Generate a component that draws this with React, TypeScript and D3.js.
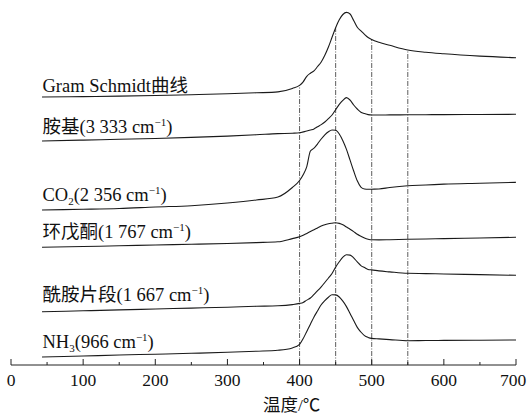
import React from "react";
import * as d3 from "d3";

// Temperature samples (°C)
const temps = [43, 100, 150, 200, 250, 300, 340, 370, 390, 400, 405, 410, 415, 420, 425, 430, 435, 440, 445, 450, 455, 460, 465, 470, 475, 480, 485, 490, 495, 500, 510, 525, 550, 575, 600, 650, 700];

// Stacked (offset) intensity traces, arbitrary units
const gramSchmidt = [268, 268.4, 268.9, 269.5, 270.3, 271.2, 272.2, 273.1, 276.6, 279.6, 283.2, 288.7, 291.8, 294.1, 298.5, 303, 309.7, 318, 327.7, 337.3, 345.2, 350.5, 352.6, 351, 344.5, 337.7, 334.1, 330.6, 327.5, 325.5, 322.7, 319.7, 315, 312.7, 311.2, 308.9, 307.3];
const amine = [224, 224.9, 225.7, 226.5, 227.6, 228.9, 230.2, 231.4, 231.8, 232.2, 233.1, 234, 235, 236.1, 238.3, 240.4, 243, 246.3, 250, 255.3, 260.6, 264.7, 267.4, 264.9, 260, 256, 252.8, 251.5, 250.4, 250, 250, 250.1, 250.2, 250.3, 250.4, 250.5, 250.7];
const co2 = [155, 155.7, 156.5, 158, 159.3, 162, 165, 168, 177.5, 184.5, 190.3, 198.4, 214, 216.8, 221.2, 226, 230.2, 233.3, 235, 234.8, 231, 224.3, 215.6, 204.8, 194, 184.2, 177.9, 176, 175.7, 175.8, 176, 177.5, 179.3, 180, 180.9, 181.8, 182.7];
const cyclopentanone = [117.7, 118.5, 119.2, 120, 120.7, 121.5, 122.4, 123.2, 126.4, 128.2, 129.7, 131.6, 133.5, 135.3, 137.1, 138.9, 140.3, 141.2, 141.8, 142.3, 141.6, 140.2, 138, 135.8, 133.4, 130.7, 128.8, 127, 125.8, 125.2, 125.1, 125.3, 125.7, 126, 126.4, 127, 127.7];
const amide = [53.3, 54.2, 55.1, 56, 56.9, 57.8, 58.7, 59.2, 60.4, 61.6, 62.6, 64.9, 67, 70.6, 74.3, 78.2, 82.5, 87, 91.5, 97.9, 103.2, 107.8, 110.3, 109.9, 107.1, 103.1, 99.4, 97.4, 95.5, 95.1, 94.1, 93.1, 91.7, 91.4, 91, 90.4, 89.7];
const nh3 = [8, 9, 10, 10.8, 11.7, 12.7, 13.8, 14.8, 17.1, 20.7, 26.4, 33.6, 40.8, 48.1, 54.2, 60.2, 64.4, 67.8, 70.2, 70.1, 68, 63.8, 58.4, 51.5, 44.4, 37.6, 33, 29.4, 27.6, 26.6, 26.1, 25.4, 24.3, 24.5, 24.6, 24.8, 25];

const seriesList = [gramSchmidt, amine, co2, cyclopentanone, amide, nh3];

const majorTicks = [0, 100, 200, 300, 400, 500, 600, 700];
const minorTicks = [50, 150, 250, 350, 450, 550, 650];
const markerTemps = [400, 450, 500, 550];
const xTitle = "温度/℃";

const W = 527;
const H = 416;
const FONT = "'Liberation Serif', 'Times New Roman', 'Noto Sans CJK SC', serif";

export default function App() {
  const x = d3.scaleLinear().domain([0, 700]).range([11, 516]);
  const y = d3.scaleLinear().domain([0, 365]).range([365, 0]);
  const axisY = y(0);

  const line = d3
    .line<number>()
    .x((_, i) => x(temps[i]))
    .y((v) => y(v))
    .curve(d3.curveMonotoneX);

  const gsInterp = d3.scaleLinear().domain(temps).range(gramSchmidt);

  const lblX = 42.5;
  const fs = 18.5;
  const sup = (t: string) => (
    <>
      <tspan fontSize={11} dy={-7.5}>{t}</tspan>
      <tspan dy={7.5}>)</tspan>
    </>
  );

  return (
    <svg
      width={W}
      height={H}
      style={{ position: "absolute", left: 0, top: 0, background: "#fff" }}
      fontFamily={FONT}
    >
      {/* marker lines */}
      {markerTemps.map((t) => (
        <line
          key={t}
          x1={x(t)}
          x2={x(t)}
          y1={axisY}
          y2={y(gsInterp(t))}
          stroke="#333"
          strokeWidth={0.8}
          strokeDasharray="5,1.5,1,1.5"
        />
      ))}

      {/* curves */}
      {seriesList.map((s, i) => (
        <path key={i} d={line(s) || ""} fill="none" stroke="#1a1a1a" strokeWidth={1.1} />
      ))}

      {/* axis */}
      <line x1={x(0)} x2={x(700)} y1={axisY} y2={axisY} stroke="#222" strokeWidth={1} />
      {majorTicks.map((t) => (
        <g key={"M" + t}>
          <line x1={x(t)} x2={x(t)} y1={axisY} y2={axisY - 6} stroke="#222" strokeWidth={1} />
          <text x={Math.min(x(t), W - 14)} y={386} textAnchor="middle" fontSize={17.5} fill="#111">
            {t}
          </text>
        </g>
      ))}
      {minorTicks.map((t) => (
        <line key={"m" + t} x1={x(t)} x2={x(t)} y1={axisY} y2={axisY - 3} stroke="#222" strokeWidth={1} />
      ))}
      <text x={263} y={411} fontSize={17.5} fill="#111">
        {xTitle}
      </text>

      {/* labels */}
      <g fontSize={fs} fill="#111">
        <text x={lblX} y={92}>Gram Schmidt曲线</text>
        <text x={lblX} y={133}>
          胺基(3 333 cm
          {sup("−1")}
        </text>
        <text x={lblX} y={201}>
          CO<tspan fontSize={11} dy={4}>2</tspan>
          <tspan dy={-4}>(2 356 cm</tspan>
          {sup("−1")}
        </text>
        <text x={lblX} y={238}>
          环戊酮(1 767 cm
          {sup("−1")}
        </text>
        <text x={lblX} y={301}>
          酰胺片段(1 667 cm
          {sup("−1")}
        </text>
        <text x={lblX} y={348}>
          NH<tspan fontSize={11} dy={4}>3</tspan>
          <tspan dy={-4}>(966 cm</tspan>
          {sup("−1")}
        </text>
      </g>
    </svg>
  );
}
